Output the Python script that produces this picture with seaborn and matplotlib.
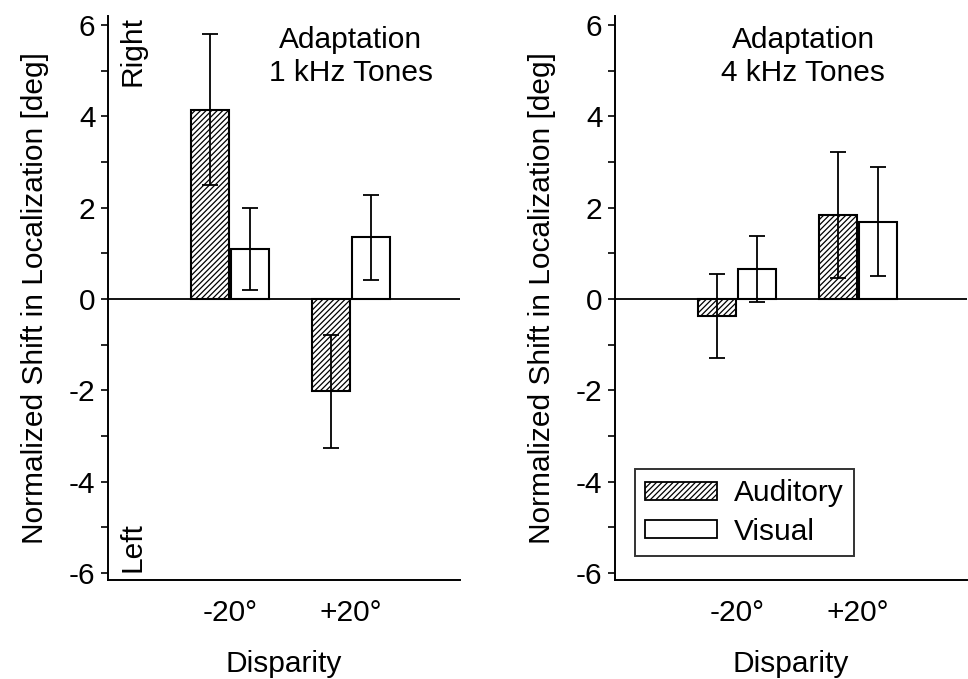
import matplotlib
matplotlib.use("Agg")
import matplotlib.pyplot as plt
import seaborn as sns
import pandas as pd
import numpy as np
from matplotlib.ticker import MultipleLocator
from matplotlib.container import BarContainer

sns.set_theme(style="ticks")
plt.rcParams['font.family'] = ['Liberation Sans', 'DejaVu Sans']
plt.rcParams['hatch.linewidth'] = 0.9
plt.rcParams['text.color'] = 'black'
plt.rcParams['axes.labelcolor'] = 'black'
plt.rcParams['xtick.color'] = 'black'
plt.rcParams['ytick.color'] = 'black'

disparity = ["-20°", "+20°"]
modality = ["Auditory", "Visual"]

# 1 kHz tones
k1_auditory = [4.15, -2.02]
k1_visual = [1.10, 1.35]
k1_auditory_err = [1.65, 1.24]
k1_visual_err = [0.90, 0.93]

# 4 kHz tones
k4_auditory = [-0.36, 1.84]
k4_visual = [0.66, 1.70]
k4_auditory_err = [0.92, 1.38]
k4_visual_err = [0.73, 1.20]

panel_titles = ["Adaptation\n1 kHz Tones", "Adaptation\n4 kHz Tones"]
yticks = [-6, -4, -2, 0, 2, 4, 6]

FS = 21.5

fig = plt.figure(figsize=(9.68, 6.79), dpi=100)
ax1 = fig.add_axes([108/968, 1-580/679, 352/968, 564/679])
ax2 = fig.add_axes([615/968, 1-580/679, 352/968, 564/679])

panels = [
    (ax1, k1_auditory, k1_visual, k1_auditory_err, k1_visual_err, panel_titles[0], 0.69, 0.982),
    (ax2, k4_auditory, k4_visual, k4_auditory_err, k4_visual_err, panel_titles[1], 0.535, 0.982),
]

for i, (ax, aud, vis, aerr, verr, title, tx, ty) in enumerate(panels):
    df = pd.DataFrame({
        "Disparity": disparity * 2,
        "Modality": [modality[0]] * 2 + [modality[1]] * 2,
        "Shift": list(aud) + list(vis),
    })
    sns.barplot(data=df, x="Disparity", y="Shift", hue="Modality",
                order=disparity, hue_order=modality, errorbar=None,
                width=0.66, gap=0.06, ax=ax, legend=(i == 1),
                palette=["white", "white"], edgecolor="black", linewidth=1.5,
                zorder=2)
    errs = [aerr, verr]
    bar_conts = [c for c in ax.containers if isinstance(c, BarContainer)]
    for ci, cont in enumerate(bar_conts):
        for bi, bar in enumerate(cont.patches):
            if ci == 0:
                bar.set_hatch("//////")
            xc = bar.get_x() + bar.get_width() / 2
            ax.errorbar(xc, bar.get_height(), yerr=errs[ci][bi], fmt="none",
                        ecolor="black", elinewidth=1.3, capsize=6, capthick=1.3,
                        zorder=3)
    ax.axhline(0, color="black", lw=1.3, zorder=4)
    ax.set_xlim(-1.01, 1.9)
    ax.set_ylim(-6.15, 6.2)
    ax.set_yticks(yticks)
    ax.set_yticklabels([str(t) for t in yticks])
    ax.yaxis.set_minor_locator(MultipleLocator(1))
    ax.tick_params(axis="y", which="both", direction="out", length=5, width=1.2,
                   labelsize=FS, pad=4, color="black", labelcolor="black")
    ax.tick_params(axis="x", length=0, labelsize=FS, pad=14, labelcolor="black")
    for s in ["top", "right"]:
        ax.spines[s].set_visible(False)
    for s in ["left", "bottom"]:
        ax.spines[s].set_linewidth(1.4)
        ax.spines[s].set_color("black")
    ax.set_xlabel("Disparity", fontsize=FS, labelpad=16, color="black")
    ax.set_ylabel("Normalized Shift in Localization [deg]", fontsize=FS,
                  labelpad=14, color="black")
    ax.text(tx, ty, title, transform=ax.transAxes, color="black",
            ha="center", va="top", fontsize=FS, linespacing=1.2)

ax1.text(0.07, 1.0, "Right", transform=ax1.transAxes, rotation=90,
         ha="center", va="top", fontsize=FS, color="black")
ax1.text(0.07, 0.015, "Left", transform=ax1.transAxes, rotation=90,
         ha="center", va="bottom", fontsize=FS, color="black")

leg = ax2.legend(loc="lower left", bbox_to_anchor=(20/352, 24/564),
                 fontsize=FS, frameon=True, fancybox=False, title=None,
                 handlelength=2.4, handleheight=0.55, handletextpad=0.55,
                 labelspacing=0.35, borderpad=0.35, borderaxespad=0)
leg.get_frame().set_edgecolor("black")
leg.get_frame().set_linewidth(1.4)
for t in leg.get_texts():
    t.set_color("black")
for h in leg.legend_handles:
    h.set_edgecolor("black")
    h.set_linewidth(1.3)
leg.legend_handles[0].set_hatch("//////")

fig.savefig("out.png", dpi=100)
